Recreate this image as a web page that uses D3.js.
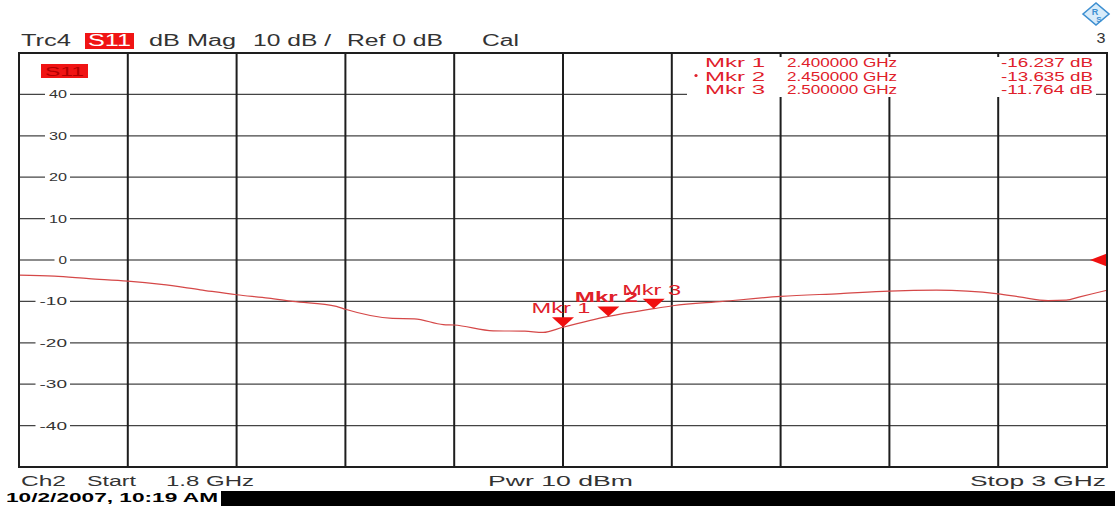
<!DOCTYPE html>
<html>
<head>
<meta charset="utf-8">
<script src="https://cdn.jsdelivr.net/npm/d3@7"></script>
<style>
  html, body { margin: 0; padding: 0; background: #fff; }
  svg { display: block; font-family: "Liberation Sans", Arial, sans-serif; }
</style>
</head>
<body>
<svg id="chart" width="1115" height="506"></svg>
<script>
// S11 trace
var freqGHz = [1.800, 1.839, 1.877, 1.920, 1.957, 2.000, 2.040, 2.075, 2.102, 2.150,
               2.160, 2.212, 2.236, 2.268, 2.280, 2.323, 2.358, 2.378, 2.400, 2.450,
               2.500, 2.521, 2.576, 2.640, 2.706, 2.760, 2.812, 2.880, 2.903, 2.935,
               2.955, 2.970, 3.000];
var s11dB = [-3.65, -3.9, -4.5, -5.1, -5.9, -7.2, -8.4, -9.2, -10.0, -11.2,
             -11.9, -14.1, -14.2, -15.6, -15.7, -17.1, -17.2, -17.5, -16.237, -13.635,
             -11.764, -11.05, -10.0, -8.8, -8.1, -7.5, -7.3, -8.2, -8.9, -9.8,
             -9.7, -8.9, -7.3];

var markerNames = ["Mkr 1", "Mkr 2", "Mkr 3"];
var markerFreq = [2.40, 2.45, 2.50];
var markerDb = [-16.237, -13.635, -11.764];
var activeMarker = 1;

var yTicks = [40, 30, 20, 10, 0, -10, -20, -30, -40];
var xGrid = [1.8, 1.92, 2.04, 2.16, 2.28, 2.4, 2.52, 2.64, 2.76, 2.88, 3.0];
var refLevel = 0;

var svg = d3.select("#chart");
var pLeft = 19, pRight = 1107, pTop = 53, pBottom = 467;
var red = "#e0202a";

var x = d3.scaleLinear().domain([1.8, 3.0]).range([pLeft, pRight]);
var y = d3.scaleLinear().domain([-50, 50]).range([pBottom, pTop]);

function txt(g, px, py, s, o) {
    var t = g.append("text").attr("x", px).attr("y", py).text(s)
        .attr("font-size", o.size)
        .attr("fill", o.fill || "#333")
        .attr("font-weight", o.bold ? "bold" : null)
        .attr("text-anchor", o.anchor || "start");
    if (o.w) t.attr("textLength", o.w).attr("lengthAdjust", "spacingAndGlyphs");
    return t;
}

// header line
txt(svg, 21, 46, "Trc4", {size: 16, w: 50});
svg.append("rect").attr("x", 85).attr("y", 33).attr("width", 49).attr("height", 16).attr("fill", "#f01414");
txt(svg, 88, 46, "S11", {size: 16, w: 43, fill: "#fff"});
txt(svg, 149, 46, "dB Mag", {size: 16, w: 87});
txt(svg, 253, 46, "10 dB /", {size: 16, w: 78});
txt(svg, 347, 46, "Ref 0 dB", {size: 16, w: 96});
txt(svg, 482, 46, "Cal", {size: 16, w: 37});
txt(svg, 1101, 43, "3", {size: 14, anchor: "middle", w: 9});

// logo diamond
var logo = svg.append("g").attr("transform", "translate(1096,14)");
logo.append("polygon").attr("points", "-13,0 0,-11 13,0 0,11")
    .attr("fill", "#d8ecfa").attr("stroke", "#3d8fd1").attr("stroke-width", 1.6);
logo.append("text").attr("x", -1).attr("y", 1).attr("font-size", 9).attr("font-weight", "bold")
    .attr("fill", "#3d8fd1").attr("text-anchor", "middle").text("R");
logo.append("text").attr("x", 3).attr("y", 8).attr("font-size", 8).attr("font-weight", "bold")
    .attr("fill", "#3d8fd1").attr("text-anchor", "middle").text("S");

// grid
var grid = svg.append("g");
grid.selectAll("line.h").data(yTicks).enter().append("line")
    .attr("x1", pLeft).attr("x2", pRight)
    .attr("y1", function (d) { return y(d); }).attr("y2", function (d) { return y(d); })
    .attr("stroke", function (d) { return d === refLevel ? "#8c8c8c" : "#444"; })
    .attr("stroke-width", function (d) { return d === refLevel ? 2 : 1.3; });
grid.selectAll("line.v").data(xGrid).enter().append("line")
    .attr("x1", function (d) { return x(d); }).attr("x2", function (d) { return x(d); })
    .attr("y1", pTop).attr("y2", pBottom)
    .attr("stroke", "#1e1e1e").attr("stroke-width", 2);

// y labels sit inside the plot with a gap in the gridline
var labs = svg.append("g");
yTicks.forEach(function (d) {
    var s = String(d);
    var t = txt(labs, 67, y(d) + 4, s, {size: 11, anchor: "end", w: s.length * 9.5 - 1, fill: "#333"});
    var b = t.node().getBBox();
    labs.insert("rect", "text").attr("x", b.x - 4).attr("y", b.y + 2).attr("width", b.width + 7)
        .attr("height", b.height - 4).attr("fill", "#fff");
});

// S11 tag inside plot
svg.append("rect").attr("x", 41).attr("y", 64).attr("width", 47).attr("height", 14).attr("fill", "#f01414");
txt(svg, 45, 76, "S11", {size: 13, w: 39, fill: "#b00000"});

// marker table
var tbl = svg.append("g");
tbl.append("rect").attr("x", 687).attr("y", 57).attr("width", 409).attr("height", 40).attr("fill", "#fff");
markerNames.forEach(function (m, i) {
    var by = 67 + i * 13.5;
    txt(tbl, 705, by, m, {size: 13.5, w: 60, fill: red});
    txt(tbl, 787, by, markerFreq[i].toFixed(6) + " GHz", {size: 13.5, w: 110, fill: red});
    txt(tbl, 1093, by, markerDb[i].toFixed(3) + " dB", {size: 13.5, w: 92, anchor: "end", fill: red});
    if (i === activeMarker)
        tbl.append("circle").attr("cx", 696).attr("cy", by - 5).attr("r", 1.6).attr("fill", red);
});

// trace
var line = d3.line()
    .curve(d3.curveMonotoneX)
    .x(function (d) { return x(d[0]); })
    .y(function (d) { return y(d[1]); });
svg.append("path").datum(d3.zip(freqGHz, s11dB))
    .attr("d", line).attr("fill", "none")
    .attr("stroke", "#d54848").attr("stroke-width", 1.2);

// markers
var mk = svg.append("g");
markerNames.forEach(function (m, i) {
    var mx = x(markerFreq[i]), my = y(markerDb[i]);
    mk.append("path")
        .attr("d", "M" + (mx - 11) + "," + (my - 10) + "L" + (mx + 11) + "," + (my - 10) + "L" + mx + "," + my + "Z")
        .attr("fill", "#f01010");
    txt(mk, mx - 2, my - 14, m, {size: 15, anchor: "middle", w: i === activeMarker ? 63 : 59,
        bold: i === activeMarker, fill: red});
});

// reference level arrow at right edge
svg.append("path")
    .attr("d", "M" + (pRight - 17) + "," + y(refLevel) + "L" + pRight + "," + (y(refLevel) - 6.5) + "L" + pRight + "," + (y(refLevel) + 6.5) + "Z")
    .attr("fill", "#f01010");

// frame
svg.append("rect").attr("x", pLeft).attr("y", pTop).attr("width", pRight - pLeft).attr("height", pBottom - pTop)
    .attr("fill", "none").attr("stroke", "#1e1e1e").attr("stroke-width", 2);

// footer
txt(svg, 21, 486, "Ch2", {size: 14, w: 45});
txt(svg, 87, 486, "Start", {size: 14, w: 49});
txt(svg, 166, 486, "1.8 GHz", {size: 14, w: 88});
txt(svg, 488, 486, "Pwr  10 dBm", {size: 14, w: 145});
txt(svg, 970, 486, "Stop  3 GHz", {size: 14, w: 136});

svg.append("rect").attr("x", 221).attr("y", 491).attr("width", 894).attr("height", 15).attr("fill", "#000");
txt(svg, 6, 502, "10/2/2007, 10:19 AM", {size: 12, w: 212, bold: true, fill: "#000"});
</script>
</body>
</html>
